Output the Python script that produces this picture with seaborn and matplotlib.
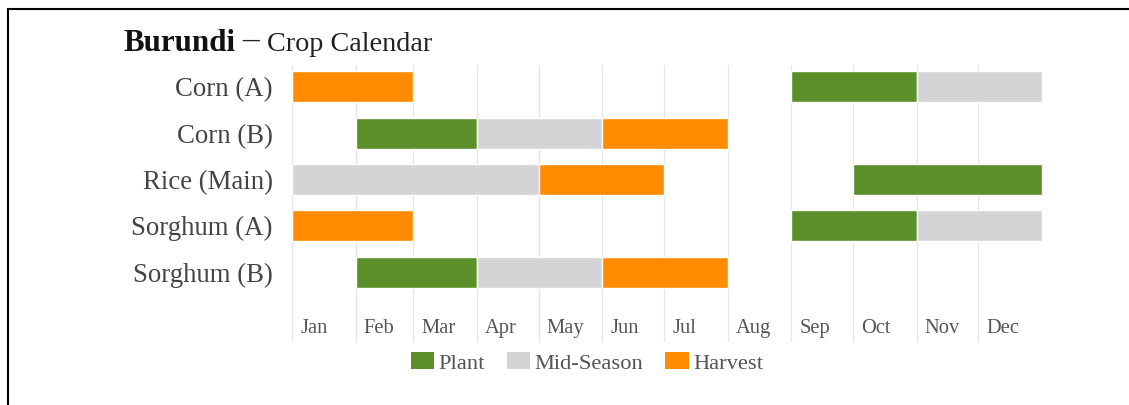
import numpy as np
import pandas as pd
import seaborn as sns
import matplotlib
matplotlib.use('Agg')
import matplotlib.pyplot as plt
from matplotlib.patches import Patch, Rectangle
from matplotlib.transforms import blended_transform_factory


months = ['Jan', 'Feb', 'Mar', 'Apr', 'May', 'Jun', 'Jul', 'Aug', 'Sep', 'Oct', 'Nov', 'Dec']
month_days = [31, 28, 31, 30, 31, 30, 31, 31, 30, 31, 30, 31]
crops = ['Corn (A)', 'Corn (B)', 'Rice (Main)', 'Sorghum (A)', 'Sorghum (B)']
stages = ['Plant', 'Mid-Season', 'Harvest']

# one row per bar segment, months given as 1..13 (13 = end of December)
seg_crop = ['Corn (A)', 'Corn (A)', 'Corn (A)',
            'Corn (B)', 'Corn (B)', 'Corn (B)',
            'Rice (Main)', 'Rice (Main)', 'Rice (Main)',
            'Sorghum (A)', 'Sorghum (A)', 'Sorghum (A)',
            'Sorghum (B)', 'Sorghum (B)', 'Sorghum (B)']
seg_stage = ['Harvest', 'Plant', 'Mid-Season',
             'Plant', 'Mid-Season', 'Harvest',
             'Mid-Season', 'Harvest', 'Plant',
             'Harvest', 'Plant', 'Mid-Season',
             'Plant', 'Mid-Season', 'Harvest']
seg_start = [1, 9, 11, 2, 4, 6, 1, 5, 10, 1, 9, 11, 2, 4, 6]
seg_end = [3, 11, 13, 4, 6, 8, 5, 7, 13, 3, 11, 13, 4, 6, 8]

stage_colors = {'Plant': '#5b8f29', 'Mid-Season': '#d4d3d6', 'Harvest': '#ff8c00'}

month_start = np.concatenate([[0], np.cumsum(month_days)])
df = pd.DataFrame({'crop': seg_crop, 'stage': seg_stage, 'start': seg_start, 'end': seg_end})
df['x0'] = month_start[df['start'] - 1]
df['width'] = month_start[df['end'] - 1] - df['x0']
df['row'] = df['crop'].map({c: i for i, c in enumerate(crops)})

sns.set_theme(style='white')
plt.rcParams['font.family'] = ['Liberation Serif', 'DejaVu Serif']

fig = plt.figure(figsize=(11.29, 4.05), dpi=100)
ax = fig.add_axes([292 / 1129, 1 - 342 / 405, 750 / 1129, 277 / 405])

for x in month_start[:-1]:
    ax.axvline(x, color='#e6e6e6', lw=1, zorder=0)

ax.barh(df['row'], df['width'], left=df['x0'], height=0.67,
        color=df['stage'].map(stage_colors), edgecolor='white', linewidth=1, zorder=2)

ax.set_xlim(0, 365)
ax.set_ylim(4 + 70 / 46.3, -22 / 46.3)
ax.set_yticks(range(len(crops)))
ax.set_yticklabels(crops, fontsize=19.3, color='#444444')
ax.tick_params(axis='y', length=0, pad=14)
ax.set_xticks([])
sns.despine(ax=ax, left=True, bottom=True)

trans = blended_transform_factory(ax.transData, ax.transAxes)
for m, x in zip(months, month_start[:-1]):
    ax.text(x + 4, 0.047, m, transform=trans, ha='left', va='center',
            fontsize=14.8, color='#555555')

fig.text(124 / 1129, 1 - 51 / 405, 'Burundi', fontsize=22.3, fontweight='bold',
         color='#111111', va='baseline')
fig.text(242 / 1129, 1 - 49 / 405, '\u2013', fontsize=24,
         color='#222222', va='baseline')
fig.text(267 / 1129, 1 - 51 / 405, 'Crop Calendar', fontsize=20.3,
         color='#222222', va='baseline')

handles = [Patch(facecolor=stage_colors[s], edgecolor='none', label=s) for s in stages]
fig.legend(handles=handles, loc='center', bbox_to_anchor=(587 / 1129, 1 - 363 / 405),
           ncol=3, frameon=False, fontsize=16.2, handlelength=1.05, handleheight=0.75,
           handletextpad=0.2, columnspacing=0.95, labelcolor='#555555')

fig.patches.append(Rectangle((8 / 1129, -0.1), 1.2, 1 - 9 / 405 + 0.1,
                             transform=fig.transFigure, fill=False,
                             edgecolor='black', linewidth=1.5))

fig.savefig('out.png', dpi=100)
